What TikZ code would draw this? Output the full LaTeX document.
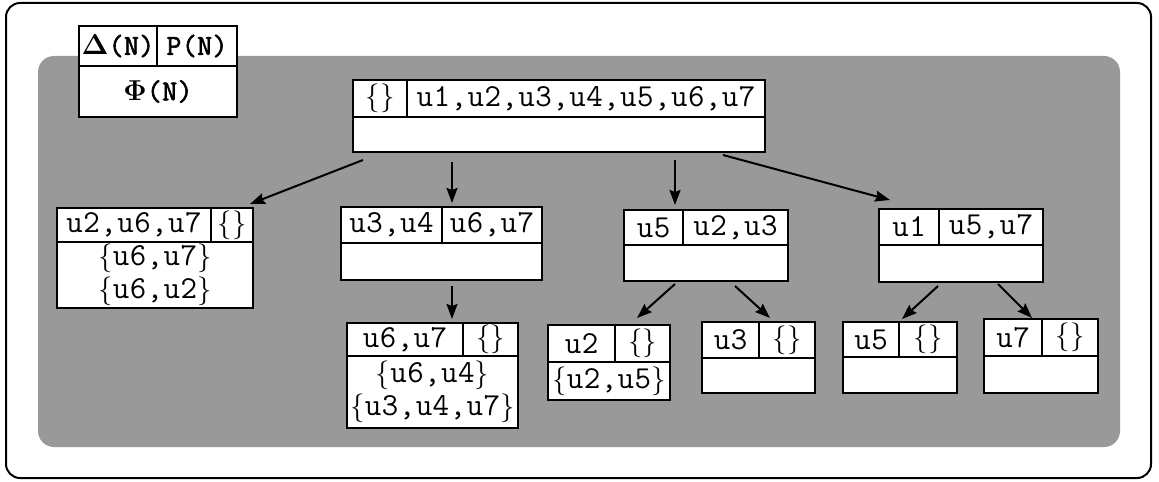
\documentclass[tikz,border=0pt]{standalone}
\usepackage[no-math]{fontspec}
\usepackage{bm}
\setmonofont[LetterSpace=1.5,BoldFont={Latin Modern Mono},BoldFeatures={FakeBold=2}]{Latin Modern Mono}
\usetikzlibrary{calc,arrows.meta}
\definecolor{bg}{RGB}{153,153,153}
\newcommand\mkcell[6]{\node[cell,minimum width=#4*0.5pt,minimum height=#5*0.5pt] (#1) at (#2,#3) {#6};}
\newcommand\lbr{{\fontsize{14}{16.5}\selectfont$\{$}}
\newcommand\rbr{{\fontsize{14}{16.5}\selectfont$\}$}}
\newcommand\emp{\lbr\rbr}
\begin{document}
\begin{tikzpicture}[x=0.5pt,y=-0.5pt,
  cell/.style={draw=black,line width=1pt,fill=white,inner sep=0pt,outer sep=0pt,anchor=north west,
    font=\fontsize{16}{16.5}\selectfont\ttfamily,align=center},
  legend/.style={cell,font=\fontsize{14.5}{15}\selectfont\ttfamily\bfseries},
  arr/.style={-{Stealth[length=7.5pt,width=5.5pt,inset=1pt]},line width=1pt}]
\useasboundingbox (0,0) rectangle (1159,481);
\draw[line width=1pt,rounded corners=7pt] (6,3) rectangle (1151,478);
\fill[bg,rounded corners=8pt] (38,56) rectangle (1120,447);
% legend
\node[legend,minimum width=39pt,minimum height=20pt] (Ll) at (79,26) {$\bm{\Delta}$(N)};
\node[legend,minimum width=40pt,minimum height=20pt] (Lr) at (157,26) {P(N)};
\node[legend,minimum width=79pt,minimum height=25.5pt] (Lb) at (79,66) {$\bm{\Phi}$(N)};
% root
\mkcell{Rl}{353}{80}{54}{37}{\emp}
\mkcell{Rr}{407}{80}{358}{37}{u1,u2,u3,u4,u5,u6,u7}
\mkcell{Rb}{353}{117}{412}{35}{}
% A
\mkcell{Al}{57}{208}{154}{34}{u2,u6,u7}
\mkcell{Ar}{211}{208}{42}{34}{\emp}
\mkcell{Ab}{57}{242}{196}{66}{\lbr u6,u7\rbr\\\lbr u6,u2\rbr}
% B
\mkcell{Bl}{341}{207}{101}{36}{u3,u4}
\mkcell{Br}{442}{207}{100}{36}{u6,u7}
\mkcell{Bb}{341}{243}{201}{37}{}
% C
\mkcell{Cl}{347}{323}{116}{33}{u6,u7}
\mkcell{Cr}{463}{323}{55}{33}{\emp}
\mkcell{Cb}{347}{356}{171}{72}{\lbr u6,u4\rbr\\\lbr u3,u4,u7\rbr}
% D
\mkcell{Dl}{624}{210}{59}{35}{u5}
\mkcell{Dr}{683}{210}{105}{35}{u2,u3}
\mkcell{Db}{624}{245}{164}{36}{}
% E
\mkcell{El}{548}{325}{67}{37}{u2}
\mkcell{Er}{615}{325}{55}{37}{\emp}
\mkcell{Eb}{548}{362}{122}{38}{\lbr u2,u5\rbr}
% F
\mkcell{Fl}{702}{322}{57}{36}{u3}
\mkcell{Fr}{759}{322}{56}{36}{\emp}
\mkcell{Fb}{702}{358}{113}{35}{}
% G
\mkcell{Gl}{879}{209}{60}{36}{u1}
\mkcell{Gr}{939}{209}{104}{36}{u5,u7}
\mkcell{Gb}{879}{245}{164}{37}{}
% H
\mkcell{Hl}{843}{322}{56}{35}{u5}
\mkcell{Hr}{899}{322}{58}{35}{\emp}
\mkcell{Hb}{843}{357}{114}{36}{}
% I
\mkcell{Il}{984}{319}{58}{37}{u7}
\mkcell{Ir}{1042}{319}{56}{37}{\emp}
\mkcell{Ib}{984}{356}{114}{37}{}
% connectors
\draw[arr] ($(Rb.south west)+(10,8)$) -- ($(Ar.north east)+(-3,-4)$);
\draw[arr] ($(Rb.south west)+(99,10)$) -- ($(Br.north west)+(10,-4)$);
\draw[arr] ($(Rb.south west)+(322,8)$) -- ($(Dl.north east)+(-8,-5)$);
\draw[arr] ($(Rb.south east)+(-42,3)$) -- ($(Gl.north west)+(11,-9)$);
\draw[arr] ($(Bb.south west)+(111,6)$) -- ($(Cl.north west)+(105,-4)$);
\draw[arr] ($(Db.south west)+(51,3)$) -- ($(Er.north west)+(22,-7)$);
\draw[arr] ($(Db.south west)+(111,5)$) -- ($(Fr.north west)+(11,-4)$);
\draw[arr] ($(Gb.south west)+(59,4)$) -- ($(Hr.north west)+(3,-3)$);
\draw[arr] ($(Gb.south west)+(119,2)$) -- ($(Il.north east)+(-10,-1)$);
\end{tikzpicture}
\end{document}
